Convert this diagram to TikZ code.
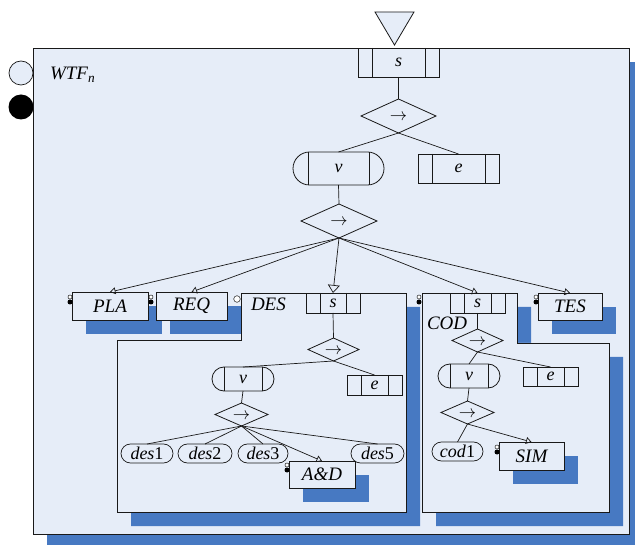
\documentclass[tikz,border=0pt]{standalone}
\usepackage{fontspec}
\setmainfont{Liberation Serif}
\usetikzlibrary{shapes.geometric,shapes.misc,arrows.meta}
\definecolor{lightfill}{RGB}{230,237,248}
\definecolor{shadowblue}{RGB}{71,121,194}
\definecolor{linec}{RGB}{25,25,25}
\newcommand{\darr}{\smash{\makebox[0pt]{\raisebox{-4.6pt}{$\rightarrow$}}}}
\tikzset{
  every node/.style={inner sep=0pt, outer sep=0pt},
  lbl/.style={font=\itshape\fontsize{19}{19}\selectfont},
  boxbase/.style={draw=linec, line width=0.8pt, fill=lightfill, font=\itshape\fontsize{18}{18}\selectfont},
  bigbox/.style={boxbase, rectangle, font=\itshape\fontsize{19}{19}\selectfont},
  divbox/.style={boxbase, rectangle, divs=#1},
  pillbox/.style={boxbase, rounded rectangle, divs=#1},
  stadium/.style={boxbase, rounded rectangle, line width=0.7pt},
  diam/.style={boxbase, diamond, font=\fontsize{19}{19}\selectfont},
  divs/.style={path picture={
    \draw[linec, line width=0.8pt]
      ([xshift=#1]path picture bounding box.north west) -- ([xshift=#1]path picture bounding box.south west)
      ([xshift=-#1]path picture bounding box.north east) -- ([xshift=-#1]path picture bounding box.south east);}},
  conn/.style={draw=linec, line width=0.7pt},
  tipS/.style={-{Triangle[open, width=7pt, length=5.5pt]}},
  tipL/.style={-{Triangle[open, width=12pt, length=8pt]}},
  shad/.style={fill=shadowblue},
  frame/.style={draw=linec, line width=0.9pt, fill=lightfill},
  mk/.style={draw=linec, fill=white, line width=0.5pt},
}
\begin{document}
\begin{tikzpicture}[x=1pt, y=-1pt]
\useasboundingbox (0,0) rectangle (635,545);
\fill[white] (0,0) rectangle (635,545);
% main frame
\fill[shad] (47,62) rectangle (635,545);
\draw[mk, fill=lightfill, line width=0.7pt] (21,73) circle (12pt);
\fill[black] (21,107) circle (12.5pt);
\draw[frame] (33,48) rectangle (629,534);
\draw[frame, line width=0.8pt] (375,12) -- (414,12) -- (394.5,45) -- cycle;
\node[lbl, anchor=west] (wtf) at (50,75) {WTF\textsubscript{n}};

% shadows
\fill[shad] (255,307) -- (420,307) -- (420,526) -- (131,526) -- (131,354) -- (255,354) -- cycle;
\fill[shad] (436,307) -- (531,307) -- (531,357) -- (623,357) -- (623,526) -- (436,526) -- cycle;
\fill[shad] (86,306) rectangle (162,334);
\fill[shad] (170,306) rectangle (241,334);
\fill[shad] (552,307) rectangle (616,334);

% sub frames
\draw[frame] (241,293) -- (406,293) -- (406,512) -- (117,512) -- (117,340) -- (241,340) -- cycle;
\draw[frame] (422,293) -- (517,293) -- (517,343) -- (609,343) -- (609,512) -- (422,512) -- cycle;
\fill[shad] (303,475) rectangle (369,502);
\fill[shad] (513,456) rectangle (578,484);

% top level
\node[divbox=14pt, minimum width=81pt, minimum height=29pt] (s0) at (398.5,62.5) {s};
\node[diam, minimum width=75pt, minimum height=34pt] (d0) at (398.5,116) {\darr};
\node[pillbox=15pt, minimum width=91pt, minimum height=33pt] (v0) at (338.5,168.5) {v};
\node[divbox=14pt, minimum width=81pt, minimum height=29pt] (e0) at (458.5,168.5) {e};
\node[diam, minimum width=76pt, minimum height=34pt] (d1) at (339,221) {\darr};
\node[bigbox, minimum width=76pt, minimum height=28pt] (pla) at (110,306) {PLA};
\node[bigbox, minimum width=71pt, minimum height=28pt] (req) at (191.5,306) {REQ};
\node[bigbox, minimum width=64pt, minimum height=27pt] (tes) at (570,306.5) {TES};

% DES
\node[lbl, anchor=west] (deslbl) at (251,304) {DES};
\node[divbox=14pt, minimum width=54pt, minimum height=20pt] (s1) at (333,303) {s};
\node[diam, minimum width=51pt, minimum height=23pt] (d2) at (333.5,349.5) {\darr};
\node[pillbox=12pt, minimum width=62pt, minimum height=24pt] (v1) at (243,379) {v};
\node[divbox=14pt, minimum width=55pt, minimum height=20pt] (e1) at (374.5,385) {e};
\node[diam, minimum width=53pt, minimum height=23pt] (d3) at (241.5,414.5) {\darr};
\node[stadium, minimum width=52pt, minimum height=19pt] (des1) at (147,453.5) {des\textup{1}};
\node[stadium, minimum width=54pt, minimum height=19pt] (des2) at (205,453.5) {des\textup{2}};
\node[stadium, minimum width=50pt, minimum height=19pt] (des3) at (263,453.5) {des\textup{3}};
\node[stadium, minimum width=53pt, minimum height=19pt] (des5) at (377.5,453.5) {des\textup{5}};
\node[bigbox, minimum width=66pt, minimum height=27pt] (ad) at (322,474.5) {A\&D};

% COD
\node[lbl, anchor=west] (codlbl) at (427,323) {COD};
\node[divbox=14pt, minimum width=55pt, minimum height=20pt] (s2) at (477.5,303) {s};
\node[diam, minimum width=51pt, minimum height=23pt] (d4) at (477.5,340.5) {\darr};
\node[pillbox=12pt, minimum width=62pt, minimum height=24pt] (v2) at (469,376) {v};
\node[divbox=14pt, minimum width=55pt, minimum height=19pt] (e2) at (550.5,376.5) {e};
\node[diam, minimum width=53pt, minimum height=23pt] (d5) at (467.5,412.5) {\darr};
\node[stadium, minimum width=51pt, minimum height=19pt] (cod1) at (457.5,451.5) {cod\textup{1}};
\node[bigbox, minimum width=65pt, minimum height=28pt] (sim) at (531.5,456) {SIM};

% markers
\draw[mk] (70,297) circle (2pt);   \fill (70,302) circle (2.5pt);
\draw[mk] (151,297) circle (2pt);  \fill (151,302) circle (2.5pt);
\draw[mk] (237,299) circle (3.3pt);
\draw[mk] (419,297) circle (2pt);  \fill (419,302) circle (2.5pt);
\draw[mk] (536,297) circle (2pt);  \fill (536,302) circle (2.5pt);
\draw[mk] (287,465) circle (2pt);  \fill (287,470) circle (2.5pt);
\draw[mk] (497,447) circle (2pt);  \fill (497,452) circle (2.5pt);

% connectors
\draw[conn] (s0.south) -- (d0.north);
\draw[conn] (d0.south) -- (v0.north);
\draw[conn] (d0.south) -- (e0.north);
\draw[conn] (v0.south) -- (d1.north);
\draw[conn, tipS] (d1.south) -- (pla.north);
\draw[conn, tipS] (d1.south) -- (req.north);
\draw[conn, tipL] (d1.south) -- (s1.north);
\draw[conn, tipS] (d1.south) -- (s2.north);
\draw[conn, tipS] (d1.south) -- (tes.north);

\draw[conn] (s1.south) -- (d2.north);
\draw[conn] (d2.south) -- (v1.north);
\draw[conn] (d2.south) -- (e1.north);
\draw[conn] (v1.south) -- (d3.north);
\draw[conn] (d3.south) -- (des1.north);
\draw[conn] (d3.south) -- (des2.north);
\draw[conn] (d3.south) -- (des3.north);
\draw[conn] (d3.south) -- (des5.north);
\draw[conn, tipS] (d3.south) -- (ad.north);

\draw[conn] (s2.south) -- (d4.north);
\draw[conn] (d4.south) -- (v2.north);
\draw[conn] (d4.south) -- (e2.north);
\draw[conn] (v2.south) -- (d5.north);
\draw[conn] (d5.south) -- (cod1.north);
\draw[conn, tipS] (d5.south) -- (sim.north);
\end{tikzpicture}
\end{document}
